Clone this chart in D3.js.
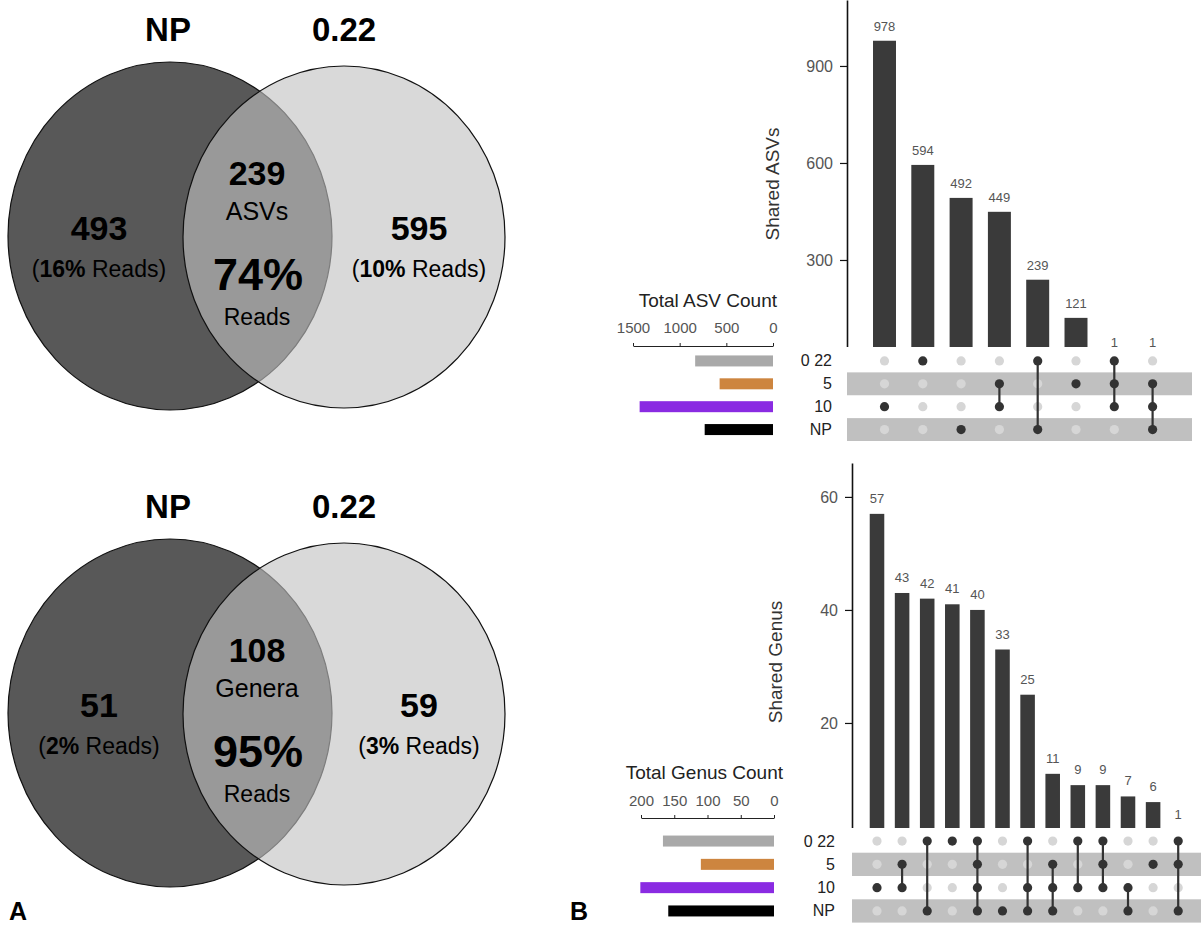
<!DOCTYPE html>
<html><head><meta charset="utf-8">
<script src="https://cdn.jsdelivr.net/npm/d3@7"></script>
<style>html,body{margin:0;padding:0;background:#fff;} svg{display:block;font-family:"Liberation Sans",Arial,sans-serif;}</style>
</head><body><div id="chart"></div>
<script>
// ---------- data ----------
const vennTitles = ["NP", "0.22"];
const asvVennCounts = [493, 239, 595];
const asvVennReads = ["16%", "74%", "10%"];
const asvVennUnit = "ASVs";
const genusVennCounts = [51, 108, 59];
const genusVennReads = ["2%", "95%", "3%"];
const genusVennUnit = "Genera";

const setNames = ["0 22", "5", "10", "NP"];
const setColors = ["#a9a9a9", "#cd853f", "#8a2be2", "#000000"];

const asvIntersections = [978, 594, 492, 449, 239, 121, 1, 1];
const asvMembers = [["10"], ["0 22"], ["NP"], ["5", "10"], ["0 22", "NP"], ["5"], ["0 22", "5", "10"], ["5", "10", "NP"]];
const asvBarTicks = [300, 600, 900];
const asvSizeTicks = [0, 500, 1000, 1500];

const genusIntersections = [57, 43, 42, 41, 40, 33, 25, 11, 9, 9, 7, 6, 1];
const genusMembers = [["10"], ["5", "10"], ["0 22", "NP"], ["0 22"], ["0 22", "5", "10", "NP"], ["NP"], ["0 22", "10", "NP"], ["5", "10", "NP"], ["0 22", "10"], ["0 22", "5", "10"], ["10", "NP"], ["5"], ["0 22", "5", "NP"]];
const genusBarTicks = [20, 40, 60];
const genusSizeTicks = [0, 50, 100, 150, 200];

// ---------- svg ----------
const W = 1201, H = 926;
const svg = d3.select("#chart").append("svg").attr("width", W).attr("height", H);

// ---------- Venn ----------
function drawVenn(dy, counts, reads, unit) {
  const g = svg.append("g").attr("transform", `translate(0,${dy})`);
  g.append("ellipse").attr("cx", 170).attr("cy", 236).attr("rx", 162).attr("ry", 174)
    .attr("fill", "#585858").attr("stroke", "#111").attr("stroke-width", 1.2);
  g.append("ellipse").attr("cx", 344).attr("cy", 237).attr("rx", 161).attr("ry", 171)
    .attr("fill", "rgb(193,193,193)").attr("fill-opacity", 0.614).attr("stroke", "#111").attr("stroke-width", 1.2);

  const titleX = [168, 344];
  g.selectAll("text.vt").data(vennTitles).join("text").attr("class", "vt")
    .attr("x", (d, i) => titleX[i]).attr("y", 41).attr("text-anchor", "middle")
    .attr("font-size", 33).attr("font-weight", "bold").attr("fill", "#000").text(d => d);

  const numX = [99, 257, 419];
  const numY = [240, 185, 240];
  g.selectAll("text.vn").data(counts).join("text").attr("class", "vn")
    .attr("x", (d, i) => numX[i]).attr("y", (d, i) => numY[i]).attr("text-anchor", "middle")
    .attr("font-size", 34).attr("font-weight", "bold").attr("fill", "#000").text(d => d);

  g.append("text").attr("x", 257).attr("y", 220).attr("text-anchor", "middle")
    .attr("font-size", 25).attr("fill", "#000").text(unit);
  g.append("text").attr("x", 258).attr("y", 290).attr("text-anchor", "middle")
    .attr("font-size", 45).attr("font-weight", "bold").attr("fill", "#000").text(reads[1]);
  g.append("text").attr("x", 257).attr("y", 325).attr("text-anchor", "middle")
    .attr("font-size", 23).attr("fill", "#000").text("Reads");

  [0, 2].forEach(k => {
    const t = g.append("text").attr("x", numX[k]).attr("y", 277).attr("text-anchor", "middle")
      .attr("font-size", 23).attr("fill", "#000");
    t.append("tspan").text("(");
    t.append("tspan").attr("font-weight", "bold").text(reads[k]);
    t.append("tspan").text(" Reads)");
  });
}
drawVenn(0, asvVennCounts, asvVennReads, asvVennUnit);
drawVenn(477, genusVennCounts, genusVennReads, genusVennUnit);

// ---------- UpSet ----------
function drawUpset(cfg) {
  const counts = cfg.counts, members = cfg.members;
  const cols = counts.map((d, i) => i);
  const x = d3.scaleBand().domain(cols).range(cfg.colRange).paddingInner(cfg.pad).paddingOuter(cfg.pad / 2);
  const y = d3.scaleLinear().domain([0, cfg.yMax]).range([cfg.zeroY, cfg.topY]);
  const row = d3.scaleBand().domain(setNames).range(cfg.rowRange);
  const rc = s => row(s) + row.step() / 2;
  const sizes = setNames.map(s => d3.sum(counts.filter((c, i) => members[i].includes(s))));
  const sx = d3.scaleLinear().domain([0, cfg.sizeMax]).range(cfg.sizeRange);

  const clipId = "clip" + cfg.id;
  svg.append("clipPath").attr("id", clipId).append("rect")
    .attr("x", cfg.axisX - 80).attr("y", cfg.topY - 10).attr("width", W)
    .attr("height", cfg.clipBottom - cfg.topY + 10);
  const gb = svg.append("g").attr("clip-path", `url(#${clipId})`);
  gb.selectAll("rect.bar").data(counts).join("rect").attr("class", "bar")
    .attr("x", (d, i) => x(i)).attr("width", x.bandwidth())
    .attr("y", d => y(d)).attr("height", d => y(0) - y(d)).attr("fill", "#3a3a3a");
  const ax = gb.append("g").attr("transform", `translate(${cfg.axisX},0)`)
    .call(d3.axisLeft(y).tickValues(cfg.barTicks).tickFormat(d3.format("d")).tickSize(7).tickPadding(7).tickSizeOuter(0));
  ax.select(".domain").attr("stroke", "#111").attr("stroke-width", 1.6);
  ax.selectAll(".tick line").attr("stroke", "#111").attr("stroke-width", 1.2);
  ax.selectAll(".tick text").attr("font-size", 16).attr("fill", "#555").attr("font-family", "Liberation Sans, Arial, sans-serif");

  svg.selectAll("text.bl" + cfg.id).data(counts).join("text").attr("class", "bl" + cfg.id)
    .attr("x", (d, i) => x(i) + x.bandwidth() / 2).attr("y", d => y(d) - cfg.labelOff)
    .attr("text-anchor", "middle").attr("font-size", 13).attr("fill", "#555").text(d => d);

  svg.append("text").attr("transform", `translate(${cfg.yLabelX},${cfg.yLabelY}) rotate(-90)`)
    .attr("text-anchor", "middle").attr("font-size", 19).attr("fill", "#333").text(cfg.yLabel);

  // matrix bands
  svg.selectAll("rect.band" + cfg.id).data(setNames.filter((s, i) => i % 2 === 1)).join("rect")
    .attr("class", "band" + cfg.id)
    .attr("x", cfg.axisX).attr("width", cfg.bandRight - cfg.axisX)
    .attr("y", s => row(s)).attr("height", row.step()).attr("fill", "#c0c0c0");

  const gm = svg.append("g");
  cols.forEach(i => {
    const cx = x(i) + x.bandwidth() / 2;
    setNames.forEach(s => {
      if (!members[i].includes(s)) gm.append("circle").attr("cx", cx).attr("cy", rc(s)).attr("r", 4.6).attr("fill", "#d6d6d6");
    });
  });
  cols.forEach(i => {
    const cx = x(i) + x.bandwidth() / 2;
    const ys = members[i].map(rc);
    if (ys.length > 1) gm.append("line").attr("x1", cx).attr("x2", cx)
      .attr("y1", d3.min(ys)).attr("y2", d3.max(ys)).attr("stroke", "#333").attr("stroke-width", 2.2);
    members[i].forEach(s => gm.append("circle").attr("cx", cx).attr("cy", rc(s)).attr("r", 4.6).attr("fill", "#333"));
  });

  // row labels
  svg.selectAll("text.rl" + cfg.id).data(setNames).join("text").attr("class", "rl" + cfg.id)
    .attr("x", cfg.rowLabelX).attr("y", s => rc(s) + 5.5).attr("text-anchor", "end")
    .attr("font-size", 16).attr("fill", "#222").text(s => s);

  // set size bars
  svg.selectAll("rect.ss" + cfg.id).data(sizes).join("rect").attr("class", "ss" + cfg.id)
    .attr("x", d => sx(d)).attr("width", d => sx(0) - sx(d))
    .attr("y", (d, i) => rc(setNames[i]) - 5.5).attr("height", 11)
    .attr("fill", (d, i) => setColors[i]);
  const sa = svg.append("g").attr("transform", `translate(0,${cfg.sizeAxisY})`)
    .call(d3.axisTop(sx).tickValues(cfg.sizeTicks).tickFormat(d3.format("d")).tickSize(3).tickPadding(cfg.sizeTickPad).tickSizeOuter(0));
  sa.select(".domain").attr("stroke", "#222").attr("stroke-width", 1.2);
  sa.selectAll(".tick line").attr("stroke", "#222");
  sa.selectAll(".tick text").attr("font-size", 15).attr("fill", "#555").attr("font-family", "Liberation Sans, Arial, sans-serif");
  svg.append("text").attr("x", cfg.sizeTitleX).attr("y", cfg.sizeTitleY).attr("text-anchor", "end")
    .attr("font-size", 19).attr("fill", "#222").text(cfg.sizeTitle);
}

drawUpset({
  id: "a", counts: asvIntersections, members: asvMembers, barTicks: asvBarTicks, sizeTicks: asvSizeTicks,
  colRange: [865.35, 1171.75], pad: 0.4, yMax: 1104, zeroY: 357, topY: 0, clipBottom: 347,
  axisX: 847, labelOff: 10, yLabel: "Shared ASVs", yLabelX: 779, yLabelY: 184,
  rowRange: [349.5, 441], bandRight: 1192, rowLabelX: 832,
  sizeMax: 1500, sizeRange: [773, 633], sizeAxisY: 346, sizeTickPad: 10,
  sizeTitle: "Total ASV Count", sizeTitleX: 777, sizeTitleY: 307
});
drawUpset({
  id: "g", counts: genusIntersections, members: genusMembers, barTicks: genusBarTicks, sizeTicks: genusSizeTicks,
  colRange: [864.45, 1190.75], pad: 0.42, yMax: 66, zeroY: 836, topY: 463, clipBottom: 828,
  axisX: 852, labelOff: 11, yLabel: "Shared Genus", yLabelX: 782, yLabelY: 662,
  rowRange: [829.4, 922.6], bandRight: 1201, rowLabelX: 835,
  sizeMax: 200, sizeRange: [774, 641], sizeAxisY: 818, sizeTickPad: 9,
  sizeTitle: "Total Genus Count", sizeTitleX: 783, sizeTitleY: 779
});

// panel letters
svg.append("text").attr("x", 9).attr("y", 920).attr("font-size", 25).attr("font-weight", "bold").text("A");
svg.append("text").attr("x", 570).attr("y", 920).attr("font-size", 25).attr("font-weight", "bold").text("B");
</script>
</body></html>
